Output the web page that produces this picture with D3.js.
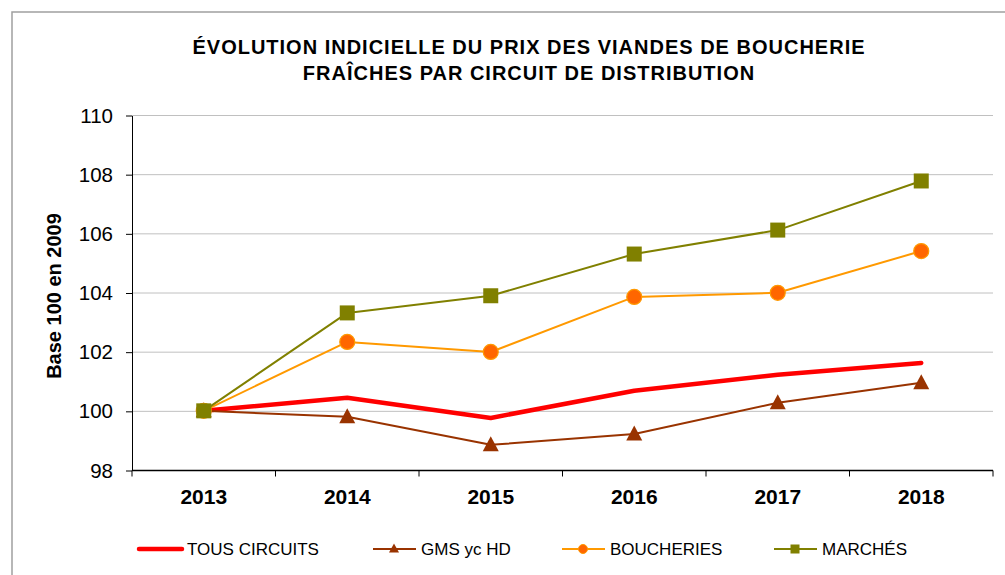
<html>
<head>
<meta charset="utf-8">
<title>Évolution prix viandes</title>
<script src="https://cdn.jsdelivr.net/npm/d3@7"></script>
<style>
body{
    margin: 0;
    background: #fff;
    font-family: Arial, "Liberation Sans", sans-serif;
}
.grid line {
    stroke: #c0c0c0;
    stroke-width: 1px;
}
.axis path, .axis line {
    stroke: #000;
}
</style>
</head>
<body>
<div id="chart"></div>
<script>
var years      = ['2013', '2014', '2015', '2016', '2017', '2018'],
    yTicks     = [98, 100, 102, 104, 106, 108, 110],
    tous       = [100, 100.44, 99.76, 100.68, 101.22, 101.62],
    gms        = [100, 99.80, 98.85, 99.22, 100.27, 100.95],
    boucheries = [100, 102.33, 101.99, 103.85, 103.99, 105.40],
    marches    = [100, 103.31, 103.89, 105.30, 106.11, 107.77];

var series = [
    {name: 'TOUS CIRCUITS', values: tous,       color: '#ff0000', width: 4.5, marker: null},
    {name: 'GMS yc HD',     values: gms,        color: '#993300', width: 2,   marker: 'triangle'},
    {name: 'BOUCHERIES',    values: boucheries, color: '#ff9900', width: 2,   marker: 'circle'},
    {name: 'MARCHÉS',       values: marches,    color: '#808000', width: 2,   marker: 'square'}
];

var W = 1005, H = 575,
    m = {left: 132, right: 12, top: 115, bottom: 105};

var svg = d3.select('#chart').append('svg')
    .attr('width', W)
    .attr('height', H);

// outer frame
svg.append('path')
    .attr('d', 'M12,' + (H + 2) + 'V12H' + (W + 2))
    .attr('fill', 'none')
    .attr('stroke', '#a0a0a0')
    .attr('stroke-width', 1.5);

var x = d3.scaleBand().domain(years).range([m.left, W - m.right]);
var y = d3.scaleLinear().domain([98, 110]).range([H - m.bottom, m.top]);

// title
var title = svg.append('text')
    .attr('text-anchor', 'middle')
    .attr('font-weight', 'bold')
    .attr('font-size', 20)
    .attr('letter-spacing', 1)
    .attr('fill', '#000');
title.append('tspan').attr('x', 529).attr('y', 54).text('ÉVOLUTION INDICIELLE DU PRIX DES VIANDES DE BOUCHERIE');
title.append('tspan').attr('x', 529).attr('y', 80).text('FRAÎCHES PAR CIRCUIT DE DISTRIBUTION');

// gridlines
svg.append('g')
    .attr('class', 'grid')
    .selectAll('line')
    .data(yTicks.slice(1))
    .join('line')
    .attr('x1', m.left)
    .attr('x2', W - m.right)
    .attr('y1', function(d) { return y(d) + 0.5; })
    .attr('y2', function(d) { return y(d) + 0.5; });

// y axis
var yAxis = svg.append('g')
    .attr('class', 'axis')
    .attr('transform', 'translate(' + m.left + ',0.5)')
    .call(d3.axisLeft(y).tickValues(yTicks).tickSize(6).tickSizeOuter(0).tickPadding(13));
yAxis.selectAll('text')
    .attr('font-size', 20.5)
    .attr('font-family', 'Arial, "Liberation Sans", sans-serif')
    .attr('fill', '#000');
yAxis.selectAll('.tick line').attr('stroke', '#888');

// x axis, ticks on category boundaries
var xg = svg.append('g')
    .attr('class', 'axis')
    .attr('transform', 'translate(0,' + (y(98) + 0.5) + ')');
xg.append('line')
    .attr('x1', m.left).attr('x2', W - m.right)
    .attr('stroke', '#000').attr('stroke-width', 1.5);
xg.selectAll('.bt')
    .data(years.concat(['end']))
    .join('line')
    .attr('class', 'bt')
    .attr('x1', function(d, i) { return m.left + i * x.bandwidth(); })
    .attr('x2', function(d, i) { return m.left + i * x.bandwidth(); })
    .attr('y1', 0).attr('y2', 6)
    .attr('stroke', '#888');
xg.selectAll('text')
    .data(years)
    .join('text')
    .attr('x', function(d) { return x(d) + x.bandwidth() / 2; })
    .attr('y', 33)
    .attr('text-anchor', 'middle')
    .attr('font-weight', 'bold')
    .attr('font-size', 21)
    .text(function(d) { return d; });

// y title
svg.append('text')
    .attr('transform', 'translate(61,' + 296 + ') rotate(-90)')
    .attr('text-anchor', 'middle')
    .attr('font-weight', 'bold')
    .attr('font-size', 20)
    .text('Base 100 en 2009');

var line = d3.line()
    .x(function(d, i) { return x(years[i]) + x.bandwidth() / 2; })
    .y(function(d) { return y(d); });

function triPath(w, h) {
    return 'M0,' + (-h / 2) + 'L' + (w / 2) + ',' + (h / 2) + 'L' + (-w / 2) + ',' + (h / 2) + 'Z';
}

function drawMarker(g, type, color, cx, cy) {
    if (type == 'triangle') {
        g.append('path')
            .attr('d', triPath(16, 15))
            .attr('transform', 'translate(' + cx + ',' + (cy - 1) + ')')
            .attr('fill', color);
    } else if (type == 'circle') {
        g.append('circle')
            .attr('cx', cx).attr('cy', cy).attr('r', 7.5)
            .attr('fill', '#ff6600')
            .attr('stroke', color)
            .attr('stroke-width', 1.2);
    } else if (type == 'square') {
        g.append('rect')
            .attr('x', cx - 7.5).attr('y', cy - 7.5)
            .attr('width', 15).attr('height', 15)
            .attr('fill', color);
    }
}

var plot = svg.append('g');
series.forEach(function(s) {
    var g = plot.append('g');
    g.append('path')
        .datum(s.values)
        .attr('fill', 'none')
        .attr('stroke', s.color)
        .attr('stroke-width', s.width)
        .attr('stroke-linejoin', 'round')
        .attr('stroke-linecap', 'round')
        .attr('d', line);
    if (s.marker) {
        s.values.forEach(function(v, i) {
            drawMarker(g, s.marker, s.color, x(years[i]) + x.bandwidth() / 2, y(v));
        });
    }
});

// legend
var legendX = [139, 373, 562, 774];
var legend = svg.append('g').attr('transform', 'translate(0,549)');
series.forEach(function(s, i) {
    var lg = legend.append('g').attr('transform', 'translate(' + legendX[i] + ',0)');
    lg.append('line')
        .attr('x1', 0).attr('x2', 43)
        .attr('stroke', s.color)
        .attr('stroke-width', s.width)
        .attr('stroke-linecap', s.marker ? 'butt' : 'round');
    if (s.marker == 'triangle') {
        lg.append('path')
            .attr('d', triPath(10, 9))
            .attr('transform', 'translate(21,-1)')
            .attr('fill', s.color);
    } else if (s.marker == 'circle') {
        lg.append('circle').attr('cx', 21).attr('cy', 0).attr('r', 4.5)
            .attr('fill', '#ff6600').attr('stroke', s.color);
    } else if (s.marker == 'square') {
        lg.append('rect').attr('x', 16.5).attr('y', -4.5).attr('width', 9).attr('height', 9)
            .attr('fill', s.color);
    }
    lg.append('text')
        .attr('x', 48)
        .attr('y', 6)
        .attr('font-size', 17)
        .text(s.name);
});
</script>
</body>
</html>
